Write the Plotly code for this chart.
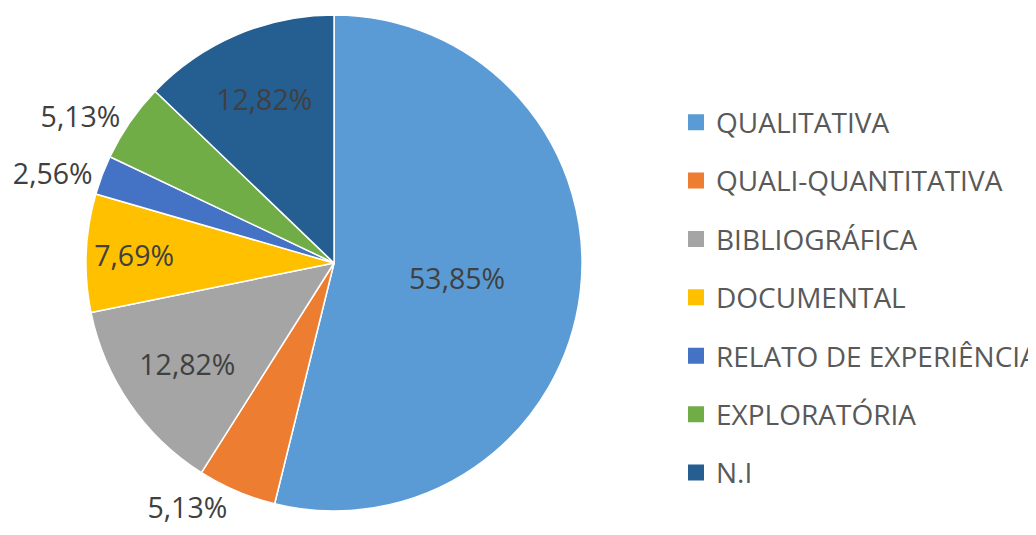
import plotly.graph_objects as go

categories = ["QUALITATIVA", "QUALI-QUANTITATIVA", "BIBLIOGRÁFICA", "DOCUMENTAL",
              "RELATO DE EXPERIÊNCIA", "EXPLORATÓRIA", "N.I"]
values = [53.85, 5.13, 12.82, 7.69, 2.56, 5.13, 12.82]
colors = ["#5B9BD5", "#ED7D31", "#A5A5A5", "#FFC000", "#4472C4", "#70AD47", "#255E91"]
positions = ["inside", "outside", "inside", "inside", "outside", "outside", "inside"]

labels_txt = [f"{v:.2f}".replace(".", ",") + "%" for v in values]
FONT = "Open Sans, Noto Sans, sans-serif"

fig = go.Figure()
fig.add_trace(go.Pie(
    labels=categories, values=values, text=labels_txt, textinfo="text",
    textposition=positions, insidetextorientation="horizontal",
    marker=dict(colors=colors, line=dict(color="white", width=1.5)),
    sort=False, direction="clockwise", rotation=0,
    textfont=dict(family=FONT, size=28.5, color="#404040"),
    domain=dict(x=[0.0753, 0.5541], y=[0.0598, 0.9869]),
    showlegend=False, hoverinfo="label+text",
))
for c, col in zip(categories, colors):
    fig.add_trace(go.Scatter(
        x=[None], y=[None], mode="markers", name=c, legendgroup=c,
        marker=dict(symbol="square", size=16, color=col),
    ))

fig.update_layout(
    width=1036, height=535, margin=dict(l=0, r=0, t=0, b=0),
    paper_bgcolor="white", plot_bgcolor="white",
    xaxis=dict(visible=False), yaxis=dict(visible=False),
    legend=dict(x=0.645, y=0.459, xanchor="left", yanchor="middle",
                font=dict(family=FONT, size=28, color="#595959"),
                tracegroupgap=19, itemwidth=30),
    font=dict(family=FONT),
)
fig.write_html("out.html")
